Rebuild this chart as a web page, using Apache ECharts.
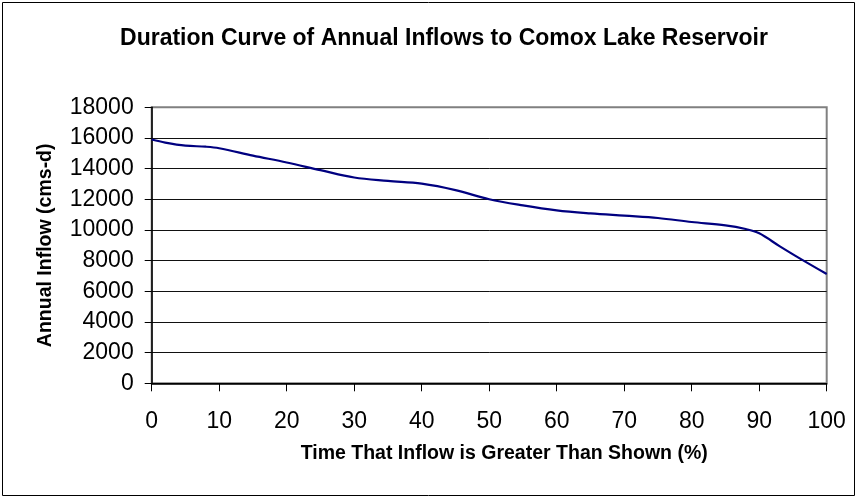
<!DOCTYPE html>
<html>
<head>
<meta charset="utf-8">
<script src="https://cdn.jsdelivr.net/npm/echarts@6/dist/echarts.min.js"></script>
<style>
  html, body { margin: 0; padding: 0; background: #fff; }
  #chart { width: 858px; height: 499px; }
</style>
</head>
<body>
<div id="chart"></div>
<script>
// Exceedance percentage (x) and annual inflow in cms-d (y)
const exceedPct = [0, 2, 5, 8, 10, 15, 20, 25, 30, 35, 40, 45, 50, 55, 60, 65, 70, 75, 80, 85, 88, 90, 93, 96, 100];
const annualInflow = [15900, 15700, 15500, 15430, 15330, 14850, 14400, 13900, 13420, 13200, 13020, 12600, 12000, 11600, 11280, 11080, 10930, 10780, 10520, 10300, 10060, 9780, 8950, 8150, 7130];

const titleText = 'Duration Curve of Annual Inflows to Comox Lake Reservoir';
const xTitle = 'Time That Inflow is Greater Than Shown (%)';
const yTitle = 'Annual Inflow (cms-d)';

const FONT = 'Liberation Sans, Arial, sans-serif';
const chart = echarts.init(document.getElementById('chart'), null, { renderer: 'canvas' });

// gridline colours: the topmost line doubles as the grey plot frame
const splitColors = ['#000', '#111', '#111', '#111', '#111', '#111', '#111', '#111', '#111', '#808080'];

chart.setOption({
  animation: false,
  backgroundColor: '#fff',
  title: {
    text: titleText,
    left: 439,
    top: 22,
    textAlign: 'center',
    textStyle: { fontFamily: FONT, fontSize: 23, fontWeight: 'bold', color: '#000' }
  },
  graphic: [{
    type: 'rect',
    shape: { x: 2.5, y: 2.5, width: 852, height: 493 },
    style: { fill: 'none', stroke: '#000', lineWidth: 1 },
    silent: true
  }],
  grid: {
    left: 151.7, right: 31.3, top: 107.3, bottom: 115.7,
    show: true, borderColor: '#808080', borderWidth: 2, backgroundColor: '#fff'
  },
  xAxis: {
    type: 'value', min: 0, max: 100, interval: 10,
    name: xTitle, nameLocation: 'middle', nameGap: 60,
    nameTextStyle: { fontFamily: FONT, fontSize: 19.5, fontWeight: 'bold', color: '#000', padding: [0, 0, 0, 30] },
    axisLine: { show: true, lineStyle: { color: '#000', width: 1.5 } },
    axisTick: { show: true, inside: false, length: 8, lineStyle: { color: '#000', width: 1 } },
    axisLabel: { margin: 27, fontFamily: FONT, fontSize: 23, color: '#000', formatter: v => String(v) },
    splitLine: { show: false }
  },
  yAxis: {
    type: 'value', min: 0, max: 18000, interval: 2000,
    name: yTitle, nameLocation: 'middle', nameGap: 96, nameRotate: 90,
    nameTextStyle: { fontFamily: FONT, fontSize: 19.5, fontWeight: 'bold', color: '#000' },
    axisLine: { show: true, lineStyle: { color: '#000', width: 1.5 } },
    axisTick: { show: true, inside: false, length: 7, lineStyle: { color: '#000', width: 1 } },
    axisLabel: { margin: 18, fontFamily: FONT, fontSize: 23, color: '#000', formatter: v => String(v) },
    splitLine: { show: true, lineStyle: { color: splitColors, width: 1 } }
  },
  series: [{
    type: 'line',
    data: exceedPct.map((p, i) => [p, annualInflow[i]]),
    smooth: 0.35,
    showSymbol: false,
    lineStyle: { color: '#000080', width: 2.2 },
    z: 5
  }]
});
</script>
</body>
</html>
